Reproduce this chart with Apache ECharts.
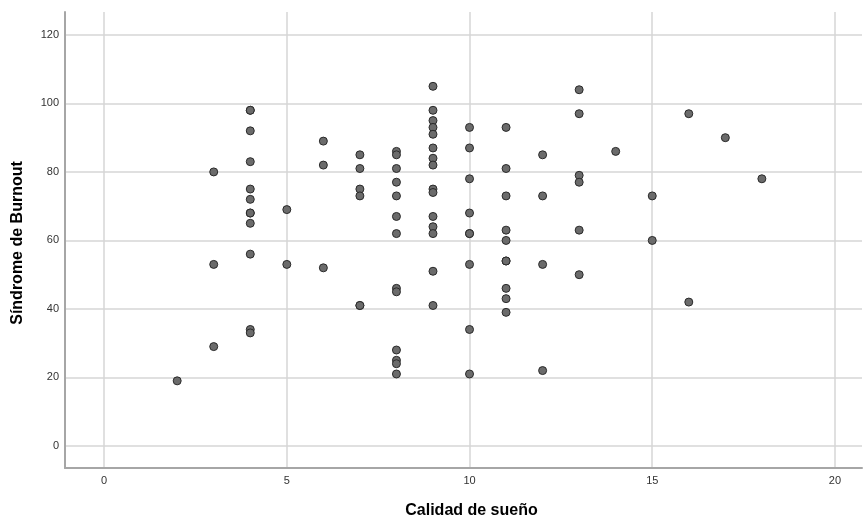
<!DOCTYPE html>
<html>
<head>
<meta charset="utf-8">
<script src="https://cdn.jsdelivr.net/npm/echarts@6/dist/echarts.min.js"></script>
<style>html,body{margin:0;padding:0;background:#fff}#c{width:863px;height:521px}</style>
</head>
<body>
<div id="c"></div>
<script>
// Calidad de sueño (x) and Síndrome de Burnout (y) for each respondent
const calidadSueno = [
  2,
  3, 3, 3,
  4, 4, 4, 4, 4, 4, 4, 4, 4, 4, 4, 4,
  5, 5,
  6, 6, 6,
  7, 7, 7, 7, 7, 7,
  8, 8, 8, 8, 8, 8, 8, 8, 8, 8, 8, 8, 8,
  9, 9, 9, 9, 9, 9, 9, 9, 9, 9, 9, 9, 9, 9, 9,
  10, 10, 10, 10, 10, 10, 10, 10, 10,
  11, 11, 11, 11, 11, 11, 11, 11, 11, 11,
  12, 12, 12, 12,
  13, 13, 13, 13, 13, 13,
  14,
  15, 15,
  16, 16,
  17,
  18
];
const burnout = [
  19,
  80, 53, 29,
  98, 98, 92, 83, 75, 72, 68, 68, 65, 56, 34, 33,
  69, 53,
  89, 82, 52,
  85, 81, 75, 73, 41, 41,
  86, 85, 81, 77, 73, 67, 62, 46, 45, 28, 25, 24, 21,
  105, 98, 95, 93, 91, 87, 84, 82, 75, 74, 67, 64, 62, 51, 41,
  93, 87, 78, 68, 62, 62, 53, 34, 21,
  93, 81, 73, 63, 60, 54, 54, 46, 43, 39,
  85, 73, 53, 22,
  104, 97, 79, 77, 63, 50,
  86,
  73, 60,
  97, 42,
  90,
  78
];
const xTicks = [0, 5, 10, 15, 20];
const yTicks = [0, 20, 40, 60, 80, 100, 120];
const xTitle = 'Calidad de sueño';
const yTitle = 'Síndrome de Burnout';

const points = calidadSueno.map((x, i) => [x, burnout[i]]);
const font = '"Liberation Sans", Arial, sans-serif';

const chart = echarts.init(document.getElementById('c'), null, {renderer: 'canvas'});
chart.setOption({
  animation: false,
  backgroundColor: '#ffffff',
  grid: {left: 65, right: 1, top: 12, bottom: 53, outerBoundsMode: 'none', containLabel: false},
  xAxis: {
    type: 'value',
    min: -1.07,
    max: 20.74,
    name: xTitle,
    nameLocation: 'middle',
    nameGap: 35,
    nameTextStyle: {fontFamily: font, fontSize: 16, fontWeight: 'bold', color: '#000', padding: [0, 0, 0, 16]},
    axisLine: {show: true, onZero: false, lineStyle: {color: '#a6a6a6', width: 2}},
    axisTick: {show: false, customValues: xTicks},
    axisLabel: {customValues: xTicks, fontFamily: font, fontSize: 11, color: '#333', margin: 7},
    splitLine: {show: true, lineStyle: {color: '#d6d6d6', width: 1.5}}
  },
  yAxis: {
    type: 'value',
    min: -6.45,
    max: 126.7,
    name: yTitle,
    nameLocation: 'middle',
    nameGap: 39,
    nameTextStyle: {fontFamily: font, fontSize: 16, fontWeight: 'bold', color: '#000', padding: [0, 6, 0, 0]},
    axisLine: {show: true, onZero: false, lineStyle: {color: '#a6a6a6', width: 2}},
    axisTick: {show: false, customValues: yTicks},
    axisLabel: {customValues: yTicks, fontFamily: font, fontSize: 11, color: '#333', margin: 6},
    splitLine: {show: true, lineStyle: {color: '#d6d6d6', width: 1.5}}
  },
  series: [{
    type: 'scatter',
    data: points,
    symbol: 'circle',
    symbolSize: 8,
    itemStyle: {color: '#6b6b6b', borderColor: '#2a2a2a', borderWidth: 1, opacity: 1}
  }]
});
</script>
</body>
</html>
